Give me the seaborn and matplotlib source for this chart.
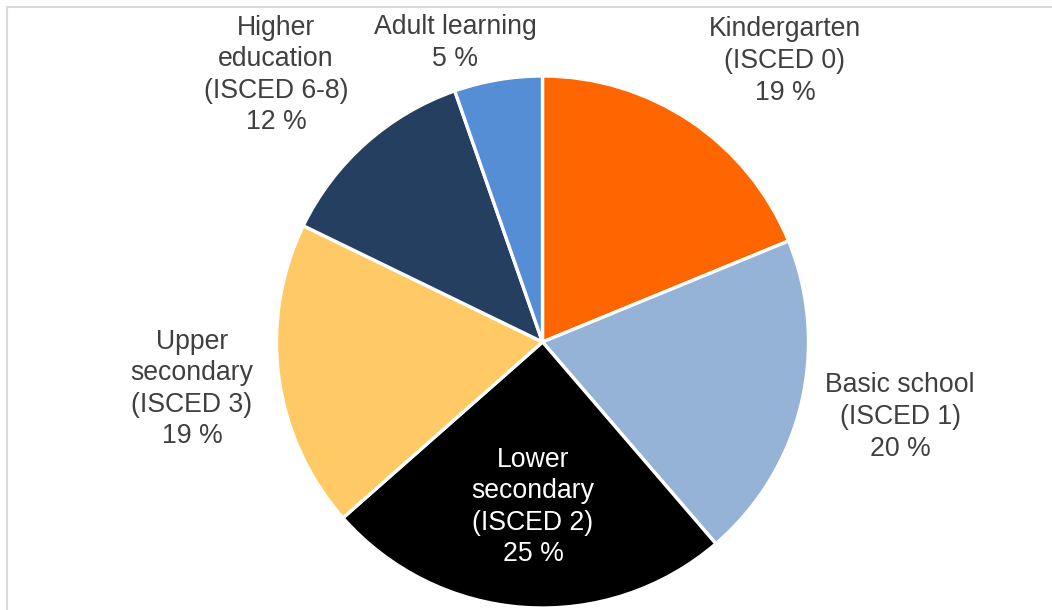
import matplotlib
matplotlib.use("Agg")
import matplotlib.pyplot as plt
import seaborn as sns
from matplotlib.patches import Rectangle

sns.set_theme(style="white")
plt.rcParams['font.family'] = ['Liberation Sans', 'DejaVu Sans']

categories = ["Kindergarten\n(ISCED 0)", "Basic school\n(ISCED 1)", "Lower\nsecondary\n(ISCED 2)",
              "Upper\nsecondary\n(ISCED 3)", "Higher\neducation\n(ISCED 6-8)", "Adult learning"]
values = [18.8, 19.9, 24.8, 18.7, 12.45, 5.35]
colors = ["#FF6600", "#95B3D7", "#000000", "#FFC966", "#243F60", "#558ED5"]
text_colors = ["#404040", "#404040", "#FFFFFF", "#404040", "#404040", "#404040"]
# label centers in pixel coordinates (x, y from top)
label_pos = [(785, 62), (900, 418), (533, 508), (192, 390), (276, 76), (455, 44)]

W, H = 1052, 610
fig = plt.figure(figsize=(W / 100, H / 100), dpi=100)
ax = fig.add_axes([0, 0, 1, 1])

cx, cy, r = 542.5, H - 342, 266
ax.pie(values, colors=colors, startangle=90, counterclock=False,
       center=(cx, cy), radius=r, frame=True,
       wedgeprops=dict(edgecolor="white", linewidth=2.4))
ax.set_xlim(0, W)
ax.set_ylim(0, H)
ax.set_aspect("equal")
ax.axis("off")

total = sum(values)
for cat, v, (px, py), tc in zip(categories, values, label_pos, text_colors):
    pct = round(100 * v / total)
    ax.text(px, H - py + 1, f"{cat}\n{pct} %", ha="center", va="center",
            fontsize=19.2, color=tc, linespacing=1.28)

ax.add_patch(Rectangle((7, -20), W + 20, H - 7 + 20, fill=False,
                       edgecolor="#D9D9D9", linewidth=1.5, clip_on=False))

fig.savefig("out.png", dpi=100)
